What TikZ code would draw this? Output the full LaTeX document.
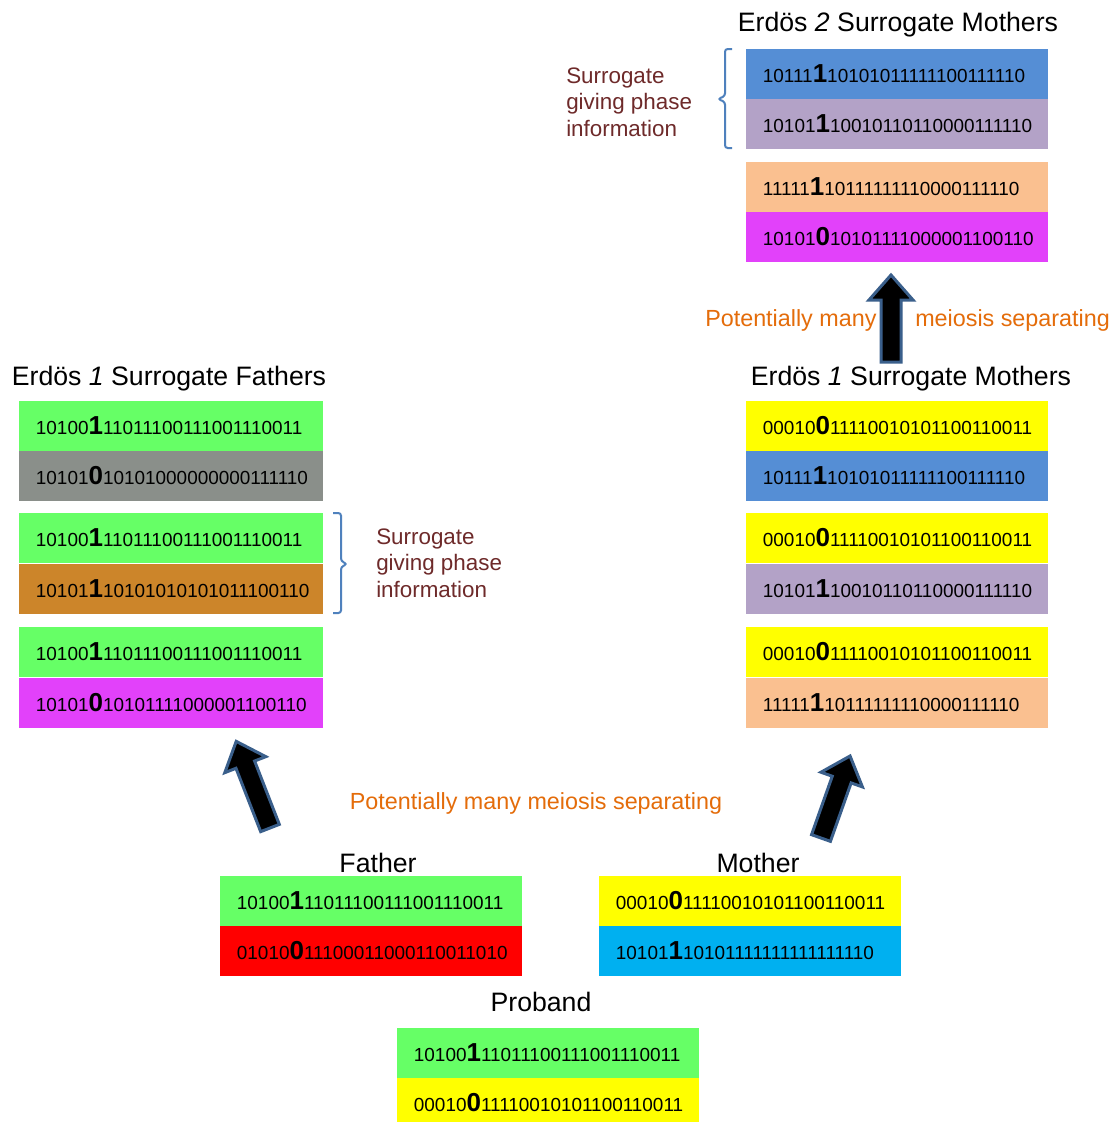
\documentclass[tikz,border=0pt]{standalone}
\usepackage{fontspec}
\setmainfont{Liberation Sans}
\definecolor{cgreen}{HTML}{66FF66}
\definecolor{cgray}{HTML}{8A8F8A}
\definecolor{cbrown}{HTML}{CC852A}
\definecolor{cmagenta}{HTML}{E241FA}
\definecolor{cyellow}{HTML}{FFFF00}
\definecolor{cblue}{HTML}{558ED5}
\definecolor{clilac}{HTML}{B3A2C7}
\definecolor{cpeach}{HTML}{FAC090}
\definecolor{cred}{HTML}{FF0000}
\definecolor{ccyan}{HTML}{00B0F0}
\definecolor{corange}{HTML}{E46C0A}
\definecolor{cdarkred}{HTML}{6E2A2A}
\definecolor{cbracket}{HTML}{4F81BD}
\definecolor{carrowedge}{HTML}{3A5F8B}
\newcommand{\bitrow}[3]{#1{\fontsize{19.5}{19.5}\selectfont\bfseries #2}#3}
\newcommand{\blockarrow}[3]{%
  \begin{scope}[shift={#1}, rotate=#2]
    \draw[blockarr] (0,-10) -- ({#3-25},-10) -- ({#3-25},-22) -- (#3,0) -- ({#3-25},22) -- ({#3-25},10) -- (0,10) -- cycle;
  \end{scope}}
\tikzset{
  row/.style={rectangle, anchor=north west, inner xsep=12.5pt, inner ysep=0pt,
    minimum height=37pt, text width=201.5pt, align=left,
    font=\fontsize{14.2}{15}\selectfont},
  title/.style={font=\fontsize{20}{24}\selectfont, inner sep=0pt},
  orangetext/.style={font=\fontsize{17.5}{21}\selectfont, text=corange, inner sep=0pt},
  phasetext/.style={font=\fontsize{16.8}{20}\selectfont, text=cdarkred, align=left, inner sep=0pt, anchor=west},
  bracket/.style={draw=cbracket, line width=1.5pt, rounded corners=2pt},
  blockarr/.style={fill=black, draw=carrowedge, line width=2.25pt, line join=miter},
}
\begin{document}
\begin{tikzpicture}[x=0.75pt, y=-0.75pt]
\clip (0,0) rectangle (1114,1122);
\fill[white] (0,0) rectangle (1114,1122);

% Erdos 2 surrogate mothers
\node[title] (t2) at (898,25) {Erdös \textit{2} Surrogate Mothers};
\node[row, fill=cblue] (m2a) at (746,49) {\bitrow{10111}{1}{10101011111100111110}};
\node[row, fill=clilac] (m2b) at (746,99) {\bitrow{10101}{1}{10010110110000111110}};
\node[row, fill=cpeach] (m2c) at (746,162) {\bitrow{11111}{1}{10111111110000111110}};
\node[row, fill=cmagenta] (m2d) at (746,212) {\bitrow{10101}{0}{10101111000001100110}};
\draw[bracket] (732,49) -- (725,49) -- (725,96) -- (718,99) -- (725,102) -- (725,148) -- (732,148);
\node[phasetext] (ph2) at (566,102) {Surrogate\\giving phase\\information};

% top arrow and text
\blockarrow{(891,362)}{90}{87}
\node[orangetext, anchor=west] (o2a) at (705,320) {Potentially many};
\node[orangetext, anchor=west] (o2b) at (915,320) {meiosis separating};

% Erdos 1 surrogate fathers
\node[title] (tf) at (169,379) {Erdös \textit{1} Surrogate Fathers};
\node[row, fill=cgreen, text width=203pt] (f1) at (19,401) {\bitrow{10100}{1}{11011100111001110011}};
\node[row, fill=cgray, text width=203pt] (f2) at (19,451) {\bitrow{10101}{0}{10101000000000111110}};
\node[row, fill=cgreen, text width=203pt] (f3) at (19,513) {\bitrow{10100}{1}{11011100111001110011}};
\node[row, fill=cbrown, text width=203pt] (f4) at (19,564) {\bitrow{10101}{1}{10101010101011100110}};
\node[row, fill=cgreen, text width=203pt] (f5) at (19,627) {\bitrow{10100}{1}{11011100111001110011}};
\node[row, fill=cmagenta, text width=203pt] (f6) at (19,678) {\bitrow{10101}{0}{10101111000001100110}};
\draw[bracket] (333,513) -- (341,513) -- (341,561) -- (347,564) -- (341,567) -- (341,613) -- (333,613);
\node[phasetext] (ph1) at (376,563) {Surrogate\\giving phase\\information};

% Erdos 1 surrogate mothers
\node[title] (tm) at (911,379) {Erdös \textit{1} Surrogate Mothers};
\node[row, fill=cyellow] (m1) at (746,401) {\bitrow{00010}{0}{11110010101100110011}};
\node[row, fill=cblue] (m2) at (746,451) {\bitrow{10111}{1}{10101011111100111110}};
\node[row, fill=cyellow] (m3) at (746,513) {\bitrow{00010}{0}{11110010101100110011}};
\node[row, fill=clilac] (m4) at (746,564) {\bitrow{10101}{1}{10010110110000111110}};
\node[row, fill=cyellow] (m5) at (746,627) {\bitrow{00010}{0}{11110010101100110011}};
\node[row, fill=cpeach] (m6) at (746,678) {\bitrow{11111}{1}{10111111110000111110}};

% arrows from parents
\blockarrow{(270,828)}{111.3}{93}
\blockarrow{(821,838)}{70.5}{87}
\node[orangetext] (o1) at (536,803) {Potentially many meiosis separating};

% Father
\node[title] (tfa) at (378,863) {Father};
\node[row, fill=cgreen] (fa1) at (220,876) {\bitrow{10100}{1}{11011100111001110011}};
\node[row, fill=cred] (fa2) at (220,926) {\bitrow{01010}{0}{11100011000110011010}};

% Mother
\node[title] (tmo) at (758,863) {Mother};
\node[row, fill=cyellow] (mo1) at (599,876) {\bitrow{00010}{0}{11110010101100110011}};
\node[row, fill=ccyan] (mo2) at (599,926) {\bitrow{10101}{1}{10101111111111111110}};

% Proband
\node[title] (tp) at (541,1002) {Proband};
\node[row, fill=cgreen] (p1) at (397,1028) {\bitrow{10100}{1}{11011100111001110011}};
\node[row, fill=cyellow] (p2) at (397,1078) {\bitrow{00010}{0}{11110010101100110011}};
\end{tikzpicture}
\end{document}
